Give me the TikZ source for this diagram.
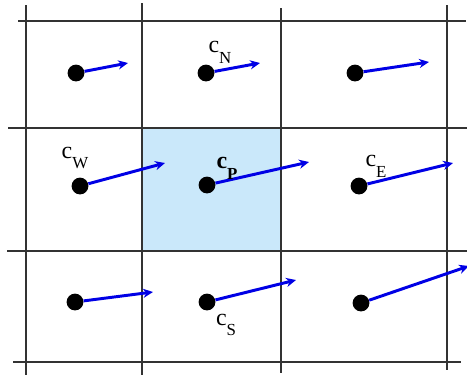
\documentclass[tikz,border=0pt]{standalone}
\usepackage{fontspec}
\setmainfont{Liberation Serif}
\usetikzlibrary{arrows.meta}
\definecolor{cellblue}{RGB}{202,232,250}
\newcommand{\csub}[2]{#1\raisebox{-0.45em}{\fontsize{12}{12}\selectfont #2}}

\begin{document}
\begin{tikzpicture}[x=0.025cm, y=-0.025cm]
        % Estilos
        \tikzset{
            gridline/.style={black!80, line width=1pt},
            dot/.style={circle, fill=black, inner sep=0pt, minimum size=0.42cm},
            vec/.style={-{Stealth[length=7pt, width=6.5pt]}, blue!90!black, line width=2.1pt},
            lbl/.style={font=\fontsize{17}{19}\selectfont, inner sep=0pt}
        }
        \useasboundingbox (0,0) rectangle (467,377);

        % --- celda central ---
        \fill[cellblue] (142,128) rectangle (281,251);

        % --- rejilla ---
        \draw[gridline] (26,5) -- (26,375);
        \draw[gridline] (142,3) -- (142,375);
        \draw[gridline] (281,8) -- (281,373);
        \draw[gridline] (447,5) -- (447,370);
        \draw[gridline] (18,21) -- (466,21);
        \draw[gridline] (8,128) -- (467,128);
        \draw[gridline] (7,251) -- (467,251);
        \draw[gridline] (13,362) -- (461,362);

        % --- puntos ---
        \node[dot] (nw) at (76,73) {};
        \node[dot] (n) at (206,73) {};
        \node[dot] (ne) at (355,73) {};
        \node[dot] (w) at (80,186) {};
        \node[dot] (p) at (207,185) {};
        \node[dot] (e) at (359,186) {};
        \node[dot] (sw) at (75,302) {};
        \node[dot] (s) at (207,302) {};
        \node[dot] (se) at (361,303) {};

        % --- vectores ---
        \coordinate (nwtip) at (128,63);
        \coordinate (ntip) at (260,63);
        \coordinate (netip) at (429,62);
        \coordinate (wtip) at (165,163);
        \coordinate (ptip) at (309,162);
        \coordinate (etip) at (453,163);
        \coordinate (swtip) at (153,292);
        \coordinate (stip) at (296,280);
        \coordinate (setip) at (469,266);
        \draw[vec] (nw) -- (nwtip);
        \draw[vec] (n) -- (ntip);
        \draw[vec] (ne) -- (netip);
        \draw[vec] (w) -- (wtip);
        \draw[vec] (p) -- (ptip);
        \draw[vec] (e) -- (etip);
        \draw[vec] (sw) -- (swtip);
        \draw[vec] (s) -- (stip);
        \draw[vec] (se) -- (setip);

        % --- etiquetas ---
        \node[lbl] (cn) at (220,52) {\csub{c}{N}};
        \node[lbl] (cw) at (75,158) {\csub{c}{W}};
        \node[lbl] (cp) at (227,168) {\csub{\textbf{c}}{\textbf{P}}};
        \node[lbl] (ce) at (376,166) {\csub{c}{E}};
        \node[lbl] (cs) at (226,325) {\csub{c}{S}};
    \end{tikzpicture}
\end{document}
